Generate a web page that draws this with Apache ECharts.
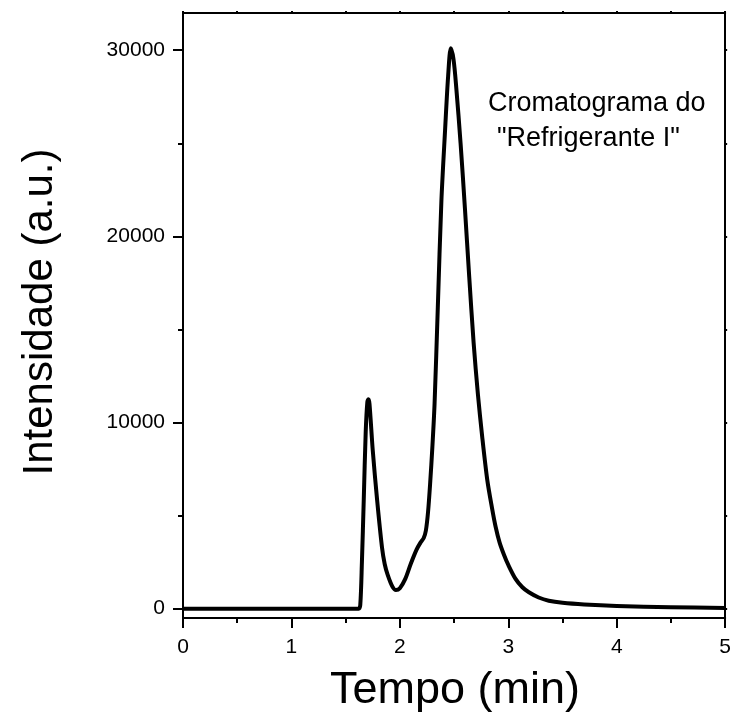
<!DOCTYPE html>
<html>
<head>
<meta charset="utf-8">
<script src="https://cdn.jsdelivr.net/npm/echarts@6/dist/echarts.min.js"></script>
<style>html,body{margin:0;padding:0;background:#fff}#c{width:734px;height:724px}</style>
</head>
<body>
<div id="c"></div>
<script>
const tempo = [0, 0.5, 1.0, 1.5, 1.62, 1.635, 1.65, 1.667, 1.685, 1.70, 1.71, 1.72, 1.75, 1.79, 1.835, 1.86, 1.887, 1.93, 1.964, 2.0, 2.05, 2.10, 2.154, 2.19, 2.22, 2.24, 2.26, 2.28, 2.30, 2.32, 2.35, 2.383, 2.417, 2.445, 2.47, 2.495, 2.52, 2.56, 2.60, 2.64, 2.68, 2.72, 2.76, 2.806, 2.85, 2.883, 2.92, 2.96, 3.0, 3.067, 3.13, 3.19, 3.28, 3.373, 3.5, 3.7, 4.0, 4.5, 5.0];
const intensidade = [0, 0, 0, 0, 0, 200, 2500, 5850, 9500, 11100, 11250, 11000, 8500, 5850, 3300, 2400, 1830, 1200, 1000, 1100, 1600, 2400, 3170, 3550, 3800, 4200, 5200, 6800, 8700, 11000, 16200, 21900, 25710, 28600, 30100, 29500, 28000, 25000, 21500, 17800, 14300, 11500, 9200, 6920, 5400, 4400, 3550, 2900, 2350, 1600, 1150, 880, 600, 430, 320, 230, 150, 80, 40];
const xTicks = [0, 1, 2, 3, 4, 5];
const yTicks = [0, 10000, 20000, 30000];
const yMinorTicks = [5000, 15000, 25000];
const xTitle = 'Tempo (min)';
const yTitle = 'Intensidade (a.u.)';
const noteLines = ['Cromatograma do', '"Refrigerante I"'];

const font = 'Liberation Sans, Arial, sans-serif';
const chart = echarts.init(document.getElementById('c'), null, {renderer: 'canvas'});
const yMin = -500, yMax = 32000;
const lineStyle = {color: '#000', width: 2};
chart.setOption({
  animation: false,
  backgroundColor: '#fff',
  grid: {left: 183, top: 13, right: 7, bottom: 106, containLabel: false},
  xAxis: [
    {type: 'value', position: 'bottom', min: 0, max: 5, interval: 1,
     axisLine: {show: true, onZero: false, lineStyle: lineStyle},
     axisTick: {show: true, inside: false, length: 10, lineStyle: lineStyle},
     minorTick: {show: true, splitNumber: 2, length: 5, lineStyle: lineStyle},
     axisLabel: {show: true, color: '#000', fontSize: 21, fontFamily: font, margin: 19,
       customValues: xTicks, formatter: v => String(v)},
     splitLine: {show: false}},
    {type: 'value', position: 'top', min: 0, max: 5, interval: 1,
     axisLine: {show: true, onZero: false, lineStyle: lineStyle},
     axisTick: {show: true, inside: false, length: 2, lineStyle: lineStyle},
     minorTick: {show: true, splitNumber: 2, length: 2, lineStyle: lineStyle},
     axisLabel: {show: false}, splitLine: {show: false}}
  ],
  yAxis: [
    {type: 'value', position: 'left', min: yMin, max: yMax,
     axisLine: {show: true, onZero: false, lineStyle: lineStyle},
     axisTick: {show: true, inside: false, length: 10, lineStyle: lineStyle, customValues: yTicks},
     axisLabel: {show: true, color: '#000', fontSize: 21, fontFamily: font, margin: 18, customValues: yTicks,
       formatter: v => String(v)},
     splitLine: {show: false}},
    {type: 'value', position: 'left', min: yMin, max: yMax,
     axisLine: {show: false},
     axisTick: {show: true, inside: false, length: 5, lineStyle: lineStyle, customValues: yMinorTicks},
     axisLabel: {show: false}, splitLine: {show: false}},
    {type: 'value', position: 'right', min: yMin, max: yMax,
     axisLine: {show: true, onZero: false, lineStyle: lineStyle},
     axisTick: {show: true, inside: false, length: 2, lineStyle: lineStyle, customValues: yTicks.concat(yMinorTicks)},
     axisLabel: {show: false}, splitLine: {show: false}}
  ],
  series: [{
    type: 'line',
    xAxisIndex: 0, yAxisIndex: 0,
    data: tempo.map((t, i) => [t, intensidade[i]]),
    showSymbol: false,
    smooth: 0.3,
    lineStyle: {color: '#000', width: 4, join: 'round'},
    silent: true
  }],
  graphic: [
    {type: 'text', rotation: Math.PI / 2, x: 40, y: 312,
     style: {text: yTitle, font: '42px ' + font, fill: '#000', textAlign: 'center', textVerticalAlign: 'middle'}},
    {type: 'text', x: 455, y: 691,
     style: {text: xTitle, font: '45px ' + font, fill: '#000', textAlign: 'center', textVerticalAlign: 'middle'}},
    {type: 'text', x: 488, y: 104,
     style: {text: noteLines[0], font: '27px ' + font, fill: '#000', textAlign: 'left', textVerticalAlign: 'middle'}},
    {type: 'text', x: 497, y: 139,
     style: {text: noteLines[1], font: '27px ' + font, fill: '#000', textAlign: 'left', textVerticalAlign: 'middle'}}
  ]
});
</script>
</body>
</html>
